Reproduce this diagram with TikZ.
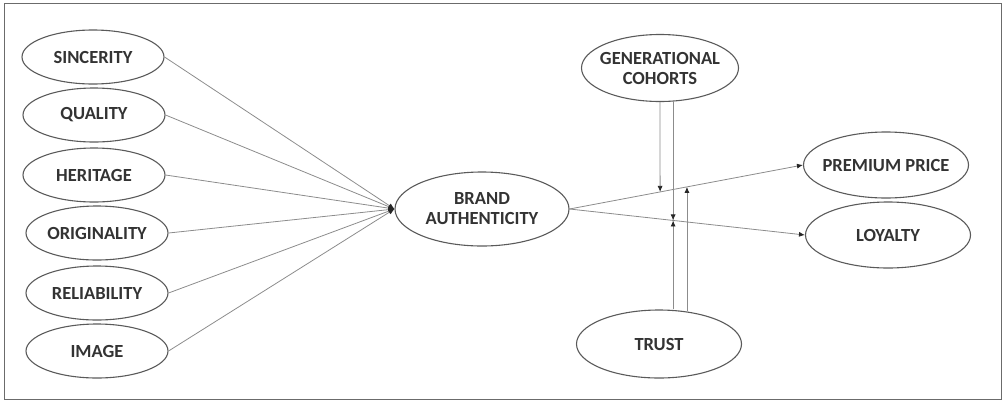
\documentclass[tikz,border=0pt]{standalone}
\usepackage{fontspec}
\setmainfont{Carlito}
\usetikzlibrary{shapes.geometric,arrows.meta,calc}
\definecolor{txt}{HTML}{333333}
\definecolor{edge}{HTML}{5A5A5A}
\definecolor{conn}{HTML}{8C8C8C}
\begin{document}
\begin{tikzpicture}[x=1pt,y=-1pt,
  oval/.style={ellipse,draw=edge,line width=1.1pt,inner xsep=-30pt,inner ysep=-8pt,
    minimum width=142pt,minimum height=54pt,align=center,
    font=\fontsize{18.5}{20}\selectfont\bfseries,text=txt},
  link/.style={draw=conn,line width=0.8pt,-{Latex[length=6pt,width=5pt,color=black!85]}}]
\useasboundingbox (0,0) rectangle (1003,400);
\draw[edge!90,line width=1pt] (4,3) rectangle (1001,399);
% left constructs
\node[oval] (sin) at (93,57) {SINCERITY};
\node[oval] (qua) at (94,115) {QUALITY};
\node[oval] (her) at (94,175) {HERITAGE};
\node[oval] (ori) at (97,233) {ORIGINALITY};
\node[oval] (rel) at (97,293) {RELIABILITY};
\node[oval] (img) at (97,351) {IMAGE};
% central
\node[oval,minimum width=174pt,minimum height=74pt] (ba) at (482,209) {BRAND\\AUTHENTICITY};
\node[oval,minimum width=157pt,minimum height=67pt] (gc) at (660,68) {GENERATIONAL\\COHORTS};
\node[oval,minimum width=165pt,minimum height=68pt] (tr) at (659,344) {TRUST};
\node[oval,minimum width=165pt,minimum height=66pt] (pp) at (886,165) {PREMIUM PRICE};
\node[oval,minimum width=165pt,minimum height=66pt] (ly) at (888,235) {LOYALTY};
% left arrows
\foreach \n in {sin,qua,her,ori,rel,img}
  \draw[link] (\n.east) -- (ba.west);
% outcome arrows
\draw[link] (ba.east) -- (pp.west);
\draw[link] (ba.east) -- (ly.west);
% moderation points on the outcome paths
\coordinate (m1) at ($(ba.east)!0.388!(pp.west)$);
\coordinate (m3) at ($(ba.east)!0.503!(pp.west)$);
\coordinate (m2) at ($(ba.east)!0.44!(ly.west)$);
% moderating arrows
\draw[link] (gc.south) -- (m1);
\draw[link] (m2 |- gc.south) ++(0,-1) -- (m2);
\draw[link] (m2 |- tr.north) -- (m2);
\draw[link] (m3 |- tr.north) ++(0,2) -- (m3);
\end{tikzpicture}
\end{document}
